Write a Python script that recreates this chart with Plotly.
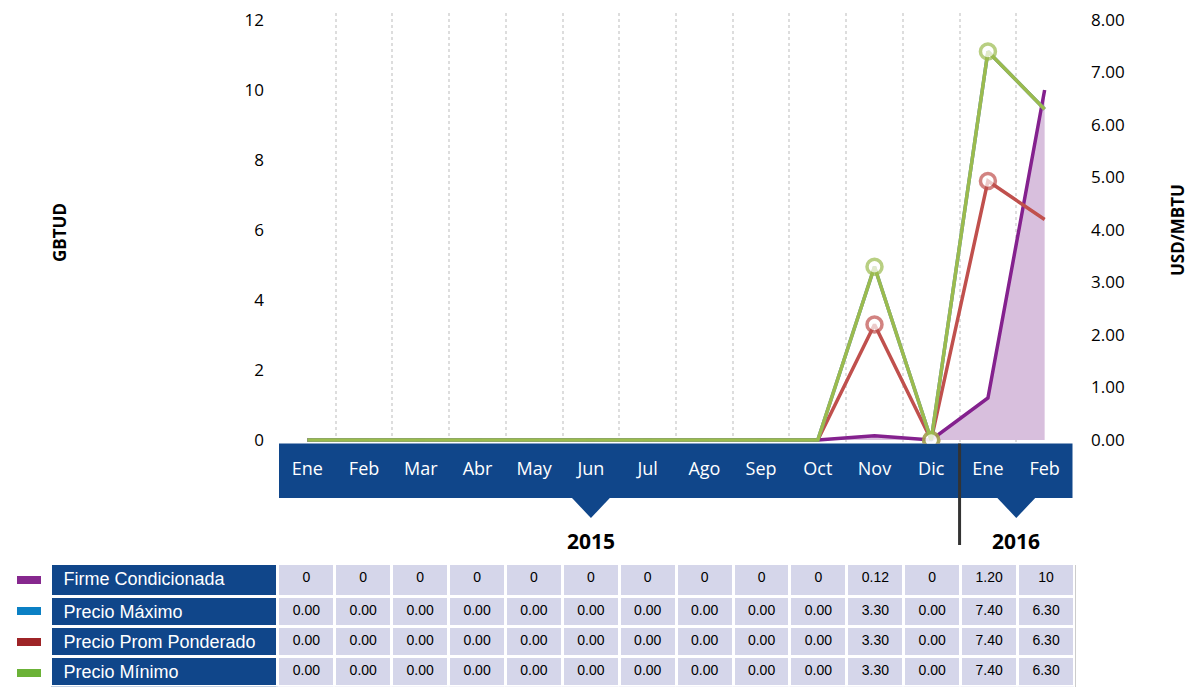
import plotly.graph_objects as go

W, H = 1188, 687

months = ["Ene", "Feb", "Mar", "Abr", "May", "Jun", "Jul", "Ago", "Sep", "Oct", "Nov", "Dic", "Ene", "Feb"]
years = ["2015"] * 12 + ["2016"] * 2
categories = [f"{m} {y}" for m, y in zip(months, years)]

firme = [0, 0, 0, 0, 0, 0, 0, 0, 0, 0, 0.12, 0, 1.20, 10]
precio_max = [0.00, 0.00, 0.00, 0.00, 0.00, 0.00, 0.00, 0.00, 0.00, 0.00, 3.30, 0.00, 7.40, 6.30]
precio_prom = [0.00, 0.00, 0.00, 0.00, 0.00, 0.00, 0.00, 0.00, 0.00, 0.00, 3.30, 0.00, 7.40, 6.30]
precio_min = [0.00, 0.00, 0.00, 0.00, 0.00, 0.00, 0.00, 0.00, 0.00, 0.00, 3.30, 0.00, 7.40, 6.30]

firme_txt = ["0", "0", "0", "0", "0", "0", "0", "0", "0", "0", "0.12", "0", "1.20", "10"]
series_names = ["Firme Condicionada", "Precio Máximo", "Precio Prom Ponderado", "Precio Mínimo"]
swatch_colors = ["#86288E", "#0B80C4", "#9E2427", "#6BB237"]

NAVY = "#10468A"
LAV = "#D5D6EA"


def px(x):
    return x / W


def py(y):
    return 1 - y / H


fig = go.Figure()

marker_sizes = [0] * 10 + [15, 15, 15, 0]

fig.add_trace(go.Scatter(
    x=categories, y=firme, mode="lines", name=series_names[0],
    line=dict(color="#84218E", width=3.5), fill="tozeroy", fillcolor="#D8BFDD",
    yaxis="y", showlegend=False))
fig.add_trace(go.Scatter(
    x=categories, y=precio_prom, mode="lines+markers", name=series_names[2],
    line=dict(color="#C0504D", width=3.5),
    marker=dict(size=marker_sizes, color="white", line=dict(color="#C0504D", width=3.5)),
    yaxis="y", showlegend=False))
fig.add_trace(go.Scatter(
    x=categories, y=precio_max, mode="lines", name=series_names[1],
    line=dict(color="#4F81BD", width=3.5), yaxis="y2", showlegend=False))
fig.add_trace(go.Scatter(
    x=categories, y=precio_min, mode="lines+markers", name=series_names[3],
    line=dict(color="#9BBB4E", width=3.5),
    marker=dict(size=marker_sizes, color="white", line=dict(color="#9BBB4E", width=3.5)),
    yaxis="y2", showlegend=False))

# Table: first series row is used as the table header row (styled like cells)
ncols = len(categories)
fmt = lambda arr: [f"{v:.2f}" for v in arr]
label_txt = ["\u00a0" + s for s in series_names]
header_vals = [label_txt[0]] + firme_txt
body_cols = [label_txt[1:]]
for i in range(ncols):
    body_cols.append([fmt(precio_max)[i], fmt(precio_prom)[i], fmt(precio_min)[i]])

col_font_colors = ["white"] + ["black"] * ncols
col_font_sizes = [18] + [14] * ncols
col_fill = [NAVY] + [LAV] * ncols
col_align = ["left"] + ["center"] * ncols

fig.add_trace(go.Table(
    domain=dict(x=[px(50.5), px(1074.5)], y=[0, py(563.5)]),
    columnwidth=[227] + [56.8] * ncols,
    header=dict(
        values=header_vals,
        fill=dict(color=col_fill),
        line=dict(color="white", width=3),
        align=col_align,
        font=dict(family="Liberation Sans", color=col_font_colors, size=col_font_sizes),
        height=33,
    ),
    cells=dict(
        values=body_cols,
        fill=dict(color=col_fill),
        line=dict(color="white", width=3),
        align=col_align,
        font=dict(family="Liberation Sans", color=col_font_colors, size=col_font_sizes),
        height=30,
    ),
))

shapes = []
shapes.append(dict(type="rect", xref="paper", yref="paper",
                   x0=px(279), x1=px(1072.5), y0=py(498), y1=py(443.5),
                   fillcolor=NAVY, line=dict(width=0), layer="below"))
for cx in [5, 12.5]:
    shapes.append(dict(type="path", xref="x", yref="paper",
                       path=f"M {cx-0.35},{py(497)} L {cx+0.35},{py(497)} L {cx},{py(518)} Z",
                       fillcolor=NAVY, line=dict(width=0), layer="below"))
shapes.append(dict(type="line", xref="x", yref="paper", x0=11.5, x1=11.5,
                   y0=py(443.5), y1=py(545), line=dict(color="#333333", width=3)))
shapes.append(dict(type="line", xref="paper", yref="paper", x0=px(1075.5), x1=px(1075.5),
                   y0=py(565), y1=0, line=dict(color="#CCCCCC", width=1)))
for i, c in enumerate(swatch_colors):
    yc = 580 + i * 31
    shapes.append(dict(type="rect", xref="paper", yref="paper",
                       x0=px(17), x1=px(41), y0=py(yc + 4), y1=py(yc - 4),
                       fillcolor=c, line=dict(width=0)))

annotations = [
    dict(text="<b>GBTUD</b>", x=px(60), y=py(233), xref="paper", yref="paper",
         xanchor="center", yanchor="middle",
         textangle=-90, showarrow=False, font=dict(size=17, color="black", family="Open Sans")),
    dict(text="<b>USD/MBTU</b>", x=px(1178), y=py(230), xref="paper", yref="paper",
         xanchor="center", yanchor="middle",
         textangle=-90, showarrow=False, font=dict(size=17, color="black", family="Open Sans")),
    dict(text="<b>2015</b>", x=5, y=py(541), xref="x", yref="paper",
         xanchor="center", yanchor="middle",
         showarrow=False, font=dict(size=21, color="black", family="Open Sans")),
    dict(text="<b>2016</b>", x=12.5, y=py(541), xref="x", yref="paper",
         xanchor="center", yanchor="middle",
         showarrow=False, font=dict(size=21, color="black", family="Open Sans")),
]

fig.update_layout(
    width=W, height=H, autosize=False,
    margin=dict(l=0, r=0, t=0, b=0, pad=0, autoexpand=False),
    paper_bgcolor="white", plot_bgcolor="white",
    showlegend=False,
    font=dict(family="Open Sans", color="black"),
    xaxis=dict(
        domain=[px(279), px(1073)], automargin=False,
        type="category", categoryorder="array", categoryarray=categories,
        range=[-0.5, ncols - 0.5],
        tickmode="array", tickvals=categories, ticktext=months,
        tickson="boundaries", ticks="", ticklabelstandoff=12,
        showgrid=True, gridcolor="#DDDDDD", gridwidth=2, griddash="dot",
        tickfont=dict(size=18, color="white", family="Open Sans"),
        showline=False, zeroline=False, anchor="y",
    ),
    yaxis=dict(
        domain=[py(443.5), py(13)], automargin=False,
        range=[-0.1, 12.2], tickvals=[0, 2, 4, 6, 8, 10, 12],
        showgrid=False, zeroline=False, showline=False,
        ticks="", ticklabelstandoff=14,
        tickfont=dict(size=17, color="black", family="Open Sans"),
    ),
    yaxis2=dict(
        overlaying="y", side="right", anchor="x", automargin=False,
        range=[-0.1 * 35 / 52.5, 12.2 * 35 / 52.5],
        tickvals=[0, 1, 2, 3, 4, 5, 6, 7, 8], tickformat=".2f",
        showgrid=False, zeroline=False, showline=False,
        ticks="", ticklabelstandoff=17,
        tickfont=dict(size=17, color="black", family="Open Sans"),
    ),
    shapes=shapes,
    annotations=annotations,
)

fig.write_html("out.html", config={"displayModeBar": False},
               post_script="document.body.style.margin='0';document.body.style.padding='0';")
